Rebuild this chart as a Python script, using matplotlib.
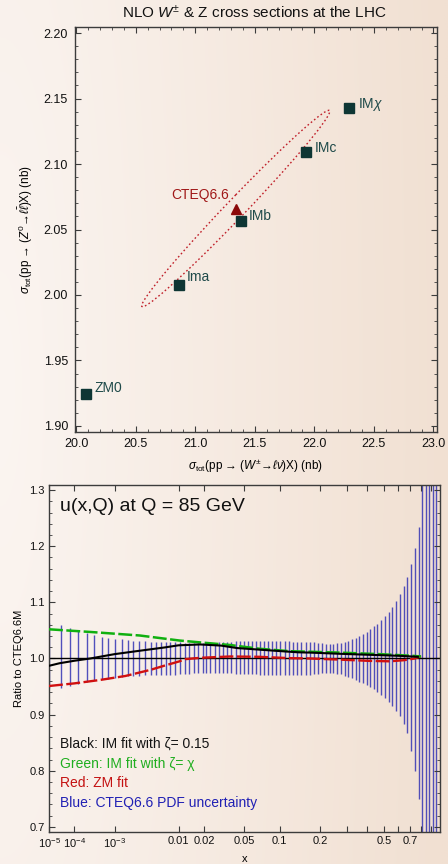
import numpy as np
import matplotlib
matplotlib.use('Agg')
import matplotlib.pyplot as plt
from matplotlib.patches import Circle
from matplotlib.transforms import Affine2D
from matplotlib.ticker import MultipleLocator, FormatStrFormatter, FixedLocator, NullLocator

plt.rcParams['font.family'] = ['Liberation Sans', 'DejaVu Sans']
plt.rcParams['mathtext.fontset'] = 'custom'
plt.rcParams['mathtext.rm'] = 'Liberation Sans'
plt.rcParams['mathtext.it'] = 'Liberation Sans:italic'
plt.rcParams['lines.scale_dashes'] = False

# ---- top panel: NLO W and Z total cross sections (nb) ----
fit_names = ['ZM0', 'Ima', 'IMb', 'IMc', r'IM$\chi$']
sigma_w = [20.08, 20.86, 21.38, 21.93, 22.29]
sigma_z = [1.9244, 2.0076, 2.0565, 2.109, 2.143]
label_off = [(6.5, 4.3), (6, 5.8), (6, 3.6), (6.5, 3), (6.5, 2)]
cteq_w, cteq_z = 21.34, 2.066
# CTEQ6.6 error ellipse: half extent in W, half extent in Z, phase
ell_dx, ell_dy, ell_phase = 0.79, 0.075, 0.14

# ---- bottom panel: u(x,Q) ratios to CTEQ6.6M ----
x_black = [1e-5, 3e-5, 1e-4, 2.8e-4, 1e-3, 2.8e-3, 6.6e-3, 0.01, 0.018, 0.03,
           0.043, 0.07, 0.11, 0.14, 0.17, 0.27, 0.47, 0.61, 0.77]
r_black = [0.987, 0.9916, 0.996, 1.0, 1.0078, 1.0138, 1.0197, 1.0235, 1.025, 1.023,
           1.0186, 1.0156, 1.0126, 1.011, 1.0105, 1.0084, 1.006, 1.0048, 1.003]
x_green = [1e-5, 2.8e-4, 2.8e-3, 0.0103, 0.018, 0.037, 0.068, 0.12, 0.14, 0.27,
           0.47, 0.72, 0.8]
r_green = [1.052, 1.0473, 1.041, 1.032, 1.0287, 1.024, 1.0174, 1.013, 1.0126, 1.0105,
           1.0078, 1.0048, 1.0036]
x_red = [1e-5, 1e-4, 4.8e-4, 1.6e-3, 4.1e-3, 6.6e-3, 0.0103, 0.012, 0.018, 0.037,
         0.068, 0.12, 0.17, 0.27, 0.41, 0.54, 0.65, 0.74, 0.8]
r_red = [0.951, 0.9557, 0.9617, 0.9689, 0.9797, 0.9874, 0.995, 0.9988, 1.0012, 1.0036,
         1.003, 1.0006, 1.0, 0.998, 0.9958, 0.995, 0.997, 1.0, 1.004]

# CTEQ6.6 PDF uncertainty band
x_err = [1.0e-5, 3.29e-5, 7.17e-5, 1.313e-4, 2.267e-4, 3.545e-4, 5.29e-4, 7.371e-4,
         1.0106e-3, 1.3602e-3, 1.7495e-3, 2.1887e-3, 2.7534e-3, 3.392e-3, 4.144e-3,
         4.957e-3, 5.781e-3, 6.839e-3, 7.852e-3, 8.983e-3, 0.010388, 0.011963,
         0.013467, 0.015279, 0.017103, 0.019146, 0.021168, 0.023357, 0.025911,
         0.028683, 0.031467, 0.034466, 0.03802, 0.041775, 0.045528, 0.049546,
         0.05384, 0.05843, 0.06333, 0.06855, 0.0741, 0.08048, 0.08679, 0.09419,
         0.10134, 0.10951, 0.11757, 0.12677, 0.13582, 0.14638, 0.15731, 0.16807,
         0.17941, 0.19134, 0.20391, 0.21712, 0.23102, 0.24374, 0.25702, 0.2729,
         0.28957, 0.3048, 0.32067, 0.33962, 0.3569, 0.37492, 0.39635, 0.41309,
         0.43626, 0.45737, 0.48251, 0.50536, 0.53258, 0.55734, 0.58672, 0.61348,
         0.64523, 0.67404, 0.70824, 0.73931, 0.7761, 0.80953, 0.8441, 0.87978,
         0.91673, 0.95483]
err_hi = [1.063, 1.059, 1.055, 1.049, 1.045, 1.042, 1.039, 1.037, 1.035, 1.034,
          1.033, 1.032, 1.031, 1.031, 1.030, 1.030, 1.030, 1.030, 1.029, 1.029,
          1.029, 1.028, 1.028, 1.028, 1.027, 1.027, 1.027, 1.028, 1.028, 1.029,
          1.029, 1.030, 1.030, 1.031, 1.031, 1.032, 1.032, 1.032, 1.032, 1.032,
          1.032, 1.032, 1.031, 1.031, 1.031, 1.031, 1.031, 1.030, 1.030, 1.030,
          1.030, 1.030, 1.029, 1.028, 1.027, 1.026, 1.026, 1.026, 1.027, 1.028,
          1.030, 1.032, 1.034, 1.037, 1.040, 1.044, 1.048, 1.052, 1.057, 1.062,
          1.068, 1.075, 1.083, 1.092, 1.103, 1.114, 1.129, 1.145, 1.168, 1.197,
          1.235, 1.32, 1.35, 1.45, 1.6, 1.9]
err_lo = [0.947, 0.947, 0.951, 0.955, 0.958, 0.961, 0.963, 0.964, 0.966, 0.967,
          0.968, 0.969, 0.969, 0.970, 0.970, 0.970, 0.971, 0.971, 0.971, 0.971,
          0.972, 0.973, 0.973, 0.974, 0.974, 0.975, 0.975, 0.975, 0.975, 0.975,
          0.975, 0.974, 0.974, 0.973, 0.973, 0.972, 0.972, 0.972, 0.972, 0.971,
          0.971, 0.971, 0.971, 0.971, 0.971, 0.971, 0.971, 0.971, 0.971, 0.971,
          0.971, 0.971, 0.972, 0.973, 0.974, 0.974, 0.974, 0.974, 0.973, 0.972,
          0.969, 0.967, 0.965, 0.962, 0.959, 0.956, 0.953, 0.949, 0.945, 0.940,
          0.935, 0.929, 0.923, 0.915, 0.907, 0.897, 0.883, 0.867, 0.835, 0.800,
          0.750, 0.68, 0.65, 0.55, 0.4, 0.1]

x_ticks = [1e-5, 1e-4, 1e-3, 0.01, 0.02, 0.05, 0.1, 0.2, 0.3, 0.4, 0.5, 0.6, 0.7, 0.8, 0.9]
x_ticklabels = [r'$10^{-5}$', r'$10^{-4}$', r'$10^{-3}$', '0.01', '0.02', '0.05',
                '0.1', '0.2', '', '', '0.5', '', '0.7', '', '']

legend_lines = [('Black: IM fit with ζ= 0.15', '#141414'),
                ('Green: IM fit with ζ= χ', '#1fae1f'),
                ('Red: ZM fit', '#c41212'),
                ('Blue: CTEQ6.6 PDF uncertainty', '#2020b4')]

spine_col = '#3c3c3c'
teal = '#0e3634'

fig = plt.figure(figsize=(4.48, 8.64), dpi=100)

# soft beige backdrop, lighter on the left
bg = fig.add_axes([0, 0, 1, 1], zorder=-10)
gx, gy = np.meshgrid(np.linspace(0, 1, 300), np.linspace(0, 1, 300))
t = np.clip(np.sqrt(gx ** 2 + (0.35 * (gy - 0.55)) ** 2), 0, 1)[..., None]
c0 = np.array([251, 245, 241]) / 255
c1 = np.array([241, 224, 210]) / 255
bg.imshow(c0 + (c1 - c0) * t, extent=[0, 1, 0, 1], aspect='auto', origin='lower')
bg.axis('off')


def style_axes(ax):
    ax.set_facecolor('none')
    for s in ax.spines.values():
        s.set_color(spine_col)
        s.set_linewidth(1.0)
    ax.tick_params(which='both', direction='in', top=True, right=True, colors=spine_col,
                   labelcolor='#111111')
    ax.tick_params(which='major', length=4.5, width=0.8)
    ax.tick_params(which='minor', length=2.5, width=0.6)


# ---------------- top panel ----------------
ax1 = fig.add_axes([75 / 448, 0.5, 362 / 448, 405 / 864])
style_axes(ax1)
ax1.set_xlim(19.99, 23.03)
ax1.set_ylim(1.8954, 2.2046)
ax1.xaxis.set_major_locator(MultipleLocator(0.5))
ax1.xaxis.set_minor_locator(MultipleLocator(0.1))
ax1.yaxis.set_major_locator(MultipleLocator(0.05))
ax1.yaxis.set_minor_locator(MultipleLocator(0.01))
ax1.xaxis.set_major_formatter(FormatStrFormatter('%.1f'))
ax1.yaxis.set_major_formatter(FormatStrFormatter('%.2f'))
ax1.tick_params(labelsize=9)
ax1.tick_params(axis='x', pad=4)
ax1.tick_params(axis='y', pad=5)

mat = np.array([[ell_dx, 0, cteq_w],
                [ell_dy * np.cos(ell_phase), -ell_dy * np.sin(ell_phase), cteq_z],
                [0, 0, 1]])
ellipse = Circle((0, 0), 1, fill=False, edgecolor='#c0202a', linewidth=1.0,
                 linestyle=(0, (1.2, 1.8)), transform=Affine2D(mat) + ax1.transData)
ax1.add_patch(ellipse)

ax1.plot(sigma_w, sigma_z, 's', color=teal, markersize=6.5, linestyle='none')
for name, xw, yz, off in zip(fit_names, sigma_w, sigma_z, label_off):
    ax1.annotate(name, (xw, yz), xytext=off, textcoords='offset points',
                 ha='left', va='center', fontsize=10, color='#1f4a4a')
ax1.plot([cteq_w], [cteq_z], '^', color='#8b0a0a', markersize=6.5)
ax1.annotate('CTEQ6.6', (cteq_w, cteq_z), xytext=(-5, 9.4), textcoords='offset points',
             ha='right', va='center', fontsize=10, color='#a01818')

ax1.set_xlabel(r'$\sigma_{\rm tot}$(pp → ($W^{\pm}$→$\ell\nu$)X) (nb)', fontsize=8.5,
               labelpad=6)
ax1.set_ylabel(r'$\sigma_{\rm tot}$(pp → ($Z^0$→$\ell\bar{\ell}$)X) (nb)', fontsize=8.5,
               labelpad=6)
fig.text(254 / 448, 1 - 13 / 864, r'NLO $W^{\pm}$ & Z cross sections at the LHC',
         ha='center', va='center', fontsize=11, color='#111111')

# ---------------- bottom panel ----------------
ax2 = fig.add_axes([49 / 448, 32 / 864, 391 / 448, 347 / 864])
style_axes(ax2)


def fwd(v):
    v = np.asarray(v, dtype=float)
    return np.sign(v) * np.abs(v) ** 0.2


def inv(v):
    v = np.asarray(v, dtype=float)
    return np.sign(v) * np.abs(v) ** 5


ax2.set_xscale('function', functions=(fwd, inv))
ax2.set_xlim(1e-5, 1.0)
ax2.set_ylim(0.691, 1.309)
ax2.xaxis.set_major_locator(FixedLocator(x_ticks))
ax2.set_xticklabels(x_ticklabels)
ax2.xaxis.set_minor_locator(NullLocator())
ax2.yaxis.set_major_locator(MultipleLocator(0.1))
ax2.yaxis.set_minor_locator(MultipleLocator(0.02))
ax2.yaxis.set_major_formatter(FormatStrFormatter('%.1f'))
ax2.tick_params(labelsize=8, pad=3)

ax2.vlines(x_err, err_lo, err_hi, colors='#3434b4', linewidth=1.0, alpha=0.85, zorder=1)
ax2.axhline(1.0, color='black', linewidth=1.0, zorder=2)
ax2.plot(x_red, r_red, color='#d01010', linewidth=1.7, linestyle=(0, (10, 2.5)), zorder=3)
ax2.plot(x_green, r_green, color='#10b010', linewidth=1.8, linestyle=(0, (10, 2.5)),
         zorder=4)
ax2.plot(x_black, r_black, color='black', linewidth=1.5, zorder=5)

ax2.text(0.028, 0.939, 'u(x,Q) at Q = 85 GeV', transform=ax2.transAxes,
         fontsize=14, ha='left', va='center', color='#111111')
for (txt, col), yy in zip(legend_lines, [0.256, 0.196, 0.141, 0.0836]):
    ax2.text(0.028, yy, txt, transform=ax2.transAxes, fontsize=10, color=col,
             ha='left', va='center')

ax2.set_ylabel('Ratio to CTEQ6.6M', fontsize=8, labelpad=4)
ax2.set_xlabel('x', fontsize=8, labelpad=3)

fig.savefig('out.png', dpi=100)
